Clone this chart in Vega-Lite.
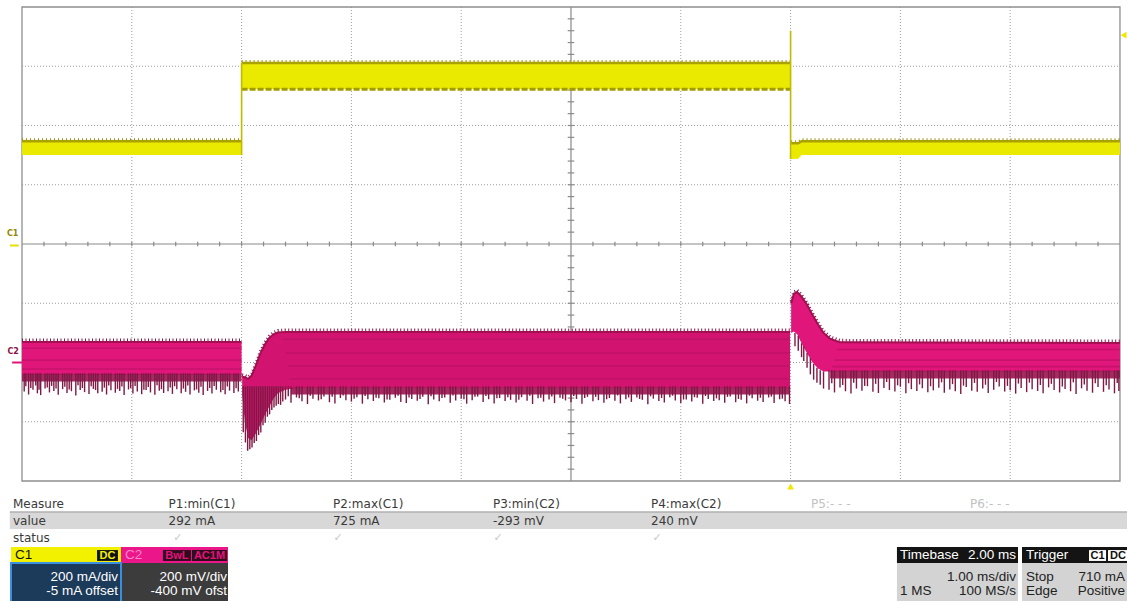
{
"$schema": "https://vega.github.io/schema/vega-lite/v6.json",
"width": 1127, "height": 601, "padding": 0, "autosize": {"type": "none"},
"background": "#ffffff",
"config": {"view": {"stroke": null}, "axis": {"disable": true}},
"datasets": {
 "vgrid": [{"t":-6},{"t":-5},{"t":-4},{"t":-3},{"t":-1},{"t":0},{"t":1},{"t":2}],
 "hgrid": [{"d":3},{"d":2},{"d":1},{"d":-1},{"d":-2},{"d":-3}],
 "xticks": [{"t":-6.8},{"t":-6.6},{"t":-6.4},{"t":-6.2},{"t":-6.0},{"t":-5.8},{"t":-5.6},{"t":-5.4},{"t":-5.2},{"t":-5.0},{"t":-4.8},{"t":-4.6},{"t":-4.4},{"t":-4.2},{"t":-4.0},{"t":-3.8},{"t":-3.6},{"t":-3.4},{"t":-3.2},{"t":-3.0},{"t":-2.8},{"t":-2.6},{"t":-2.4},{"t":-2.2},{"t":-1.8},{"t":-1.6},{"t":-1.4},{"t":-1.2},{"t":-1.0},{"t":-0.8},{"t":-0.6},{"t":-0.4},{"t":-0.2},{"t":0.0},{"t":0.2},{"t":0.4},{"t":0.6},{"t":0.8},{"t":1.0},{"t":1.2},{"t":1.4},{"t":1.6},{"t":1.8},{"t":2.0},{"t":2.2},{"t":2.4},{"t":2.6},{"t":2.8}],
 "yticks": [{"d":3.8},{"d":3.6},{"d":3.4},{"d":3.2},{"d":3.0},{"d":2.8},{"d":2.6},{"d":2.4},{"d":2.2},{"d":2.0},{"d":1.8},{"d":1.6},{"d":1.4},{"d":1.2},{"d":1.0},{"d":0.8},{"d":0.6},{"d":0.4},{"d":0.2},{"d":-0.2},{"d":-0.4},{"d":-0.6},{"d":-0.8},{"d":-1.0},{"d":-1.2},{"d":-1.4},{"d":-1.6},{"d":-1.8},{"d":-2.0},{"d":-2.2},{"d":-2.4},{"d":-2.6},{"d":-2.8},{"d":-3.0},{"d":-3.2},{"d":-3.4},{"d":-3.6},{"d":-3.8}],
 "trigT": [{"t":0,"d":-4.093}],
 "c1env": [
  {"seg":"L","t":-7,"hi":352,"lo":305},{"seg":"L","t":-5,"hi":352,"lo":305},
  {"seg":"H","t":-5,"hi":616,"lo":527},{"seg":"H","t":0,"hi":616,"lo":527},
  {"seg":"R","t":0.005,"hi":345,"lo":292},{"seg":"R","t":0.07,"hi":345,"lo":293},{"seg":"R","t":0.1,"hi":352,"lo":305},{"seg":"R","t":3,"hi":352,"lo":305}
 ],
 "c1edges": [{"t":-5,"v0":305,"v1":616},{"t":0,"v0":292,"v1":725}],
 "c1trig": [{"t":3.033,"mA":710}],
 "c1gnd": [{"t0":-7.11,"t1":-7.03,"mA":0,"lt":-7.085,"lmA":38}],
 "c2env": [
  {"seg":"L","t":-7,"hi":69,"lo":-42},{"seg":"L","t":-5,"hi":69,"lo":-42},
  {"seg":"M","t":-4.995,"hi":-48,"lo":-110},{"seg":"M","t":-4.97,"hi":-50,"lo":-200},{"seg":"M","t":-4.94,"hi":-55,"lo":-255},{"seg":"M","t":-4.91,"hi":-45,"lo":-262},{"seg":"M","t":-4.87,"hi":-10,"lo":-240},{"seg":"M","t":-4.83,"hi":30,"lo":-210},{"seg":"M","t":-4.79,"hi":60,"lo":-178},{"seg":"M","t":-4.75,"hi":82,"lo":-150},{"seg":"M","t":-4.71,"hi":95,"lo":-122},{"seg":"M","t":-4.67,"hi":101,"lo":-104},{"seg":"M","t":-4.6,"hi":103,"lo":-92},{"seg":"M","t":-4.5,"hi":103,"lo":-86},{"seg":"M","t":-0.005,"hi":103,"lo":-86},
  {"seg":"R","t":0.005,"hi":200,"lo":100},{"seg":"R","t":0.03,"hi":232,"lo":105},{"seg":"R","t":0.06,"hi":238,"lo":95},{"seg":"R","t":0.1,"hi":222,"lo":65},{"seg":"R","t":0.15,"hi":195,"lo":30},{"seg":"R","t":0.2,"hi":160,"lo":0},{"seg":"R","t":0.25,"hi":128,"lo":-20},{"seg":"R","t":0.3,"hi":100,"lo":-30},{"seg":"R","t":0.36,"hi":80,"lo":-30},{"seg":"R","t":0.45,"hi":68,"lo":-30},{"seg":"R","t":3,"hi":66,"lo":-30}
 ],
 "c2dark": [
  {"seg":"L","t":-7,"hi":-40,"lo":-64},{"seg":"L","t":-5,"hi":-40,"lo":-64},
  {"seg":"M","t":-4.55,"hi":-84,"lo":-108},{"seg":"M","t":-0.005,"hi":-84,"lo":-108},
  {"seg":"R","t":0.36,"hi":-28,"lo":-54},{"seg":"R","t":3,"hi":-28,"lo":-54}
 ],
 "c2stripe": [
  {"s":"L1","t":-7,"v":48},{"s":"L1","t":-5,"v":48},{"s":"L2","t":-7,"v":8},{"s":"L2","t":-5,"v":8},{"s":"L3","t":-7,"v":-22},{"s":"L3","t":-5,"v":-22},
  {"s":"M1","t":-4.62,"v":78},{"s":"M1","t":-0.005,"v":78},{"s":"M2","t":-4.6,"v":32},{"s":"M2","t":-0.005,"v":32},{"s":"M3","t":-4.58,"v":-12},{"s":"M3","t":-0.005,"v":-12},{"s":"M4","t":-4.56,"v":-55},{"s":"M4","t":-0.005,"v":-55},
  {"s":"R1","t":0.42,"v":44},{"s":"R1","t":3,"v":44},{"s":"R2","t":0.4,"v":8},{"s":"R2","t":3,"v":8},{"s":"R3","t":0.38,"v":-14},{"s":"R3","t":3,"v":-14}
 ],
 "spL": [{"t":-6.98,"v":-98},{"t":-6.94,"v":-108},{"t":-6.90,"v":-92},{"t":-6.86,"v":-104},{"t":-6.83,"v":-110},{"t":-6.79,"v":-88},{"t":-6.75,"v":-101},{"t":-6.71,"v":-96},{"t":-6.67,"v":-109},{"t":-6.63,"v":-90},{"t":-6.59,"v":-103},{"t":-6.55,"v":-97},{"t":-6.51,"v":-111},{"t":-6.47,"v":-93},{"t":-6.43,"v":-100},{"t":-6.39,"v":-106},{"t":-6.35,"v":-89},{"t":-6.31,"v":-104},{"t":-6.27,"v":-99},{"t":-6.23,"v":-108},{"t":-6.19,"v":-94},{"t":-6.15,"v":-102},{"t":-6.11,"v":-96},{"t":-6.07,"v":-110},{"t":-6.03,"v":-91},{"t":-5.99,"v":-105},{"t":-5.95,"v":-98},{"t":-5.91,"v":-107},{"t":-5.87,"v":-93},{"t":-5.83,"v":-101},{"t":-5.79,"v":-109},{"t":-5.75,"v":-95},{"t":-5.71,"v":-103},{"t":-5.67,"v":-97},{"t":-5.63,"v":-106},{"t":-5.59,"v":-90},{"t":-5.55,"v":-104},{"t":-5.51,"v":-99},{"t":-5.47,"v":-108},{"t":-5.43,"v":-94},{"t":-5.39,"v":-102},{"t":-5.35,"v":-110},{"t":-5.31,"v":-96},{"t":-5.27,"v":-105},{"t":-5.23,"v":-92},{"t":-5.19,"v":-100},{"t":-5.15,"v":-107},{"t":-5.11,"v":-95},{"t":-5.07,"v":-103},{"t":-5.03,"v":-98},
  {"t":-6.965,"v":-80},{"t":-6.92,"v":-86},{"t":-6.875,"v":-78},{"t":-6.845,"v":-92},{"t":-6.77,"v":-84},{"t":-6.73,"v":-79},{"t":-6.69,"v":-88},{"t":-6.61,"v":-82},{"t":-6.57,"v":-91},{"t":-6.49,"v":-77},{"t":-6.45,"v":-86},{"t":-6.37,"v":-80},{"t":-6.33,"v":-93},{"t":-6.25,"v":-85},{"t":-6.21,"v":-78},{"t":-6.13,"v":-89},{"t":-6.09,"v":-81},{"t":-6.01,"v":-87},{"t":-5.97,"v":-79},{"t":-5.89,"v":-92},{"t":-5.85,"v":-83},{"t":-5.77,"v":-77},{"t":-5.73,"v":-90},{"t":-5.65,"v":-84},{"t":-5.61,"v":-80},{"t":-5.53,"v":-88},{"t":-5.49,"v":-78},{"t":-5.41,"v":-91},{"t":-5.37,"v":-82},{"t":-5.29,"v":-86},{"t":-5.25,"v":-79},{"t":-5.17,"v":-93},{"t":-5.13,"v":-81},{"t":-5.05,"v":-87}],
 "spM": [{"t":-4.985,"v":-235},{"t":-4.965,"v":-270},{"t":-4.945,"v":-298},{"t":-4.925,"v":-293},{"t":-4.905,"v":-287},{"t":-4.885,"v":-272},{"t":-4.865,"v":-265},{"t":-4.845,"v":-245},{"t":-4.825,"v":-236},{"t":-4.805,"v":-212},{"t":-4.785,"v":-203},{"t":-4.765,"v":-183},{"t":-4.745,"v":-175},{"t":-4.725,"v":-160},{"t":-4.705,"v":-152},{"t":-4.685,"v":-146},{"t":-4.665,"v":-140},{"t":-4.645,"v":-143},{"t":-4.625,"v":-132},
  {"t":-4.60,"v":-125},{"t":-4.55,"v":-136},{"t":-4.50,"v":-118},{"t":-4.45,"v":-131},{"t":-4.40,"v":-140},{"t":-4.35,"v":-122},{"t":-4.30,"v":-128},{"t":-4.25,"v":-115},{"t":-4.20,"v":-134},{"t":-4.15,"v":-138},{"t":-4.10,"v":-120},{"t":-4.05,"v":-127},{"t":-4.00,"v":-132},{"t":-3.95,"v":-117},{"t":-3.90,"v":-139},{"t":-3.85,"v":-124},{"t":-3.80,"v":-130},{"t":-3.75,"v":-121},{"t":-3.70,"v":-135},{"t":-3.65,"v":-126},{"t":-3.60,"v":-119},{"t":-3.55,"v":-133},{"t":-3.50,"v":-137},{"t":-3.45,"v":-123},{"t":-3.40,"v":-129},{"t":-3.35,"v":-116},{"t":-3.30,"v":-141},{"t":-3.25,"v":-125},{"t":-3.20,"v":-131},{"t":-3.15,"v":-118},{"t":-3.10,"v":-136},{"t":-3.05,"v":-128},{"t":-3.00,"v":-122},{"t":-2.95,"v":-139},{"t":-2.90,"v":-127},{"t":-2.85,"v":-115},{"t":-2.80,"v":-133},{"t":-2.75,"v":-124},{"t":-2.70,"v":-138},{"t":-2.65,"v":-120},{"t":-2.60,"v":-130},{"t":-2.55,"v":-126},{"t":-2.50,"v":-135},{"t":-2.45,"v":-117},{"t":-2.40,"v":-129},{"t":-2.35,"v":-140},{"t":-2.30,"v":-121},{"t":-2.25,"v":-132},{"t":-2.20,"v":-125},{"t":-2.15,"v":-137},{"t":-2.10,"v":-119},{"t":-2.05,"v":-128},{"t":-2.00,"v":-134},{"t":-1.95,"v":-123},{"t":-1.90,"v":-139},{"t":-1.85,"v":-116},{"t":-1.80,"v":-131},{"t":-1.75,"v":-127},{"t":-1.70,"v":-136},{"t":-1.65,"v":-120},{"t":-1.60,"v":-129},{"t":-1.55,"v":-138},{"t":-1.50,"v":-124},{"t":-1.45,"v":-133},{"t":-1.40,"v":-118},{"t":-1.35,"v":-126},{"t":-1.30,"v":-141},{"t":-1.25,"v":-122},{"t":-1.20,"v":-130},{"t":-1.15,"v":-135},{"t":-1.10,"v":-117},{"t":-1.05,"v":-128},{"t":-1.00,"v":-137},{"t":-0.95,"v":-125},{"t":-0.90,"v":-132},{"t":-0.85,"v":-119},{"t":-0.80,"v":-139},{"t":-0.75,"v":-123},{"t":-0.70,"v":-130},{"t":-0.65,"v":-127},{"t":-0.60,"v":-136},{"t":-0.55,"v":-115},{"t":-0.50,"v":-134},{"t":-0.45,"v":-126},{"t":-0.40,"v":-138},{"t":-0.35,"v":-121},{"t":-0.30,"v":-129},{"t":-0.25,"v":-133},{"t":-0.20,"v":-118},{"t":-0.15,"v":-137},{"t":-0.10,"v":-124},{"t":-0.05,"v":-131},{"t":-0.01,"v":-140},
  {"t":-4.575,"v":-114},{"t":-4.475,"v":-121},{"t":-4.375,"v":-112},{"t":-4.275,"v":-124},{"t":-4.175,"v":-116},{"t":-4.075,"v":-111},{"t":-3.975,"v":-122},{"t":-3.875,"v":-113},{"t":-3.775,"v":-119},{"t":-3.675,"v":-125},{"t":-3.575,"v":-112},{"t":-3.475,"v":-118},{"t":-3.375,"v":-123},{"t":-3.275,"v":-114},{"t":-3.175,"v":-120},{"t":-3.075,"v":-111},{"t":-2.975,"v":-124},{"t":-2.875,"v":-116},{"t":-2.775,"v":-113},{"t":-2.675,"v":-121},{"t":-2.575,"v":-117},{"t":-2.475,"v":-126},{"t":-2.375,"v":-112},{"t":-2.275,"v":-119},{"t":-2.175,"v":-115},{"t":-2.075,"v":-122},{"t":-1.975,"v":-113},{"t":-1.875,"v":-120},{"t":-1.775,"v":-116},{"t":-1.675,"v":-124},{"t":-1.575,"v":-111},{"t":-1.475,"v":-118},{"t":-1.375,"v":-123},{"t":-1.275,"v":-114},{"t":-1.175,"v":-120},{"t":-1.075,"v":-112},{"t":-0.975,"v":-125},{"t":-0.875,"v":-117},{"t":-0.775,"v":-113},{"t":-0.675,"v":-121},{"t":-0.575,"v":-116},{"t":-0.475,"v":-123},{"t":-0.375,"v":-112},{"t":-0.275,"v":-119},{"t":-0.175,"v":-115},{"t":-0.075,"v":-122}],
 "spR": [{"t":0.35,"v":-92},{"t":0.40,"v":-101},{"t":0.45,"v":-84},{"t":0.50,"v":-97},{"t":0.55,"v":-105},{"t":0.60,"v":-88},{"t":0.65,"v":-95},{"t":0.70,"v":-80},{"t":0.75,"v":-99},{"t":0.80,"v":-103},{"t":0.85,"v":-86},{"t":0.90,"v":-93},{"t":0.95,"v":-98},{"t":1.00,"v":-82},{"t":1.05,"v":-104},{"t":1.10,"v":-90},{"t":1.15,"v":-96},{"t":1.20,"v":-87},{"t":1.25,"v":-100},{"t":1.30,"v":-94},{"t":1.35,"v":-85},{"t":1.40,"v":-102},{"t":1.45,"v":-91},{"t":1.50,"v":-97},{"t":1.55,"v":-106},{"t":1.60,"v":-83},{"t":1.65,"v":-95},{"t":1.70,"v":-99},{"t":1.75,"v":-88},{"t":1.80,"v":-103},{"t":1.85,"v":-92},{"t":1.90,"v":-81},{"t":1.95,"v":-98},{"t":2.00,"v":-94},{"t":2.05,"v":-105},{"t":2.10,"v":-86},{"t":2.15,"v":-100},{"t":2.20,"v":-90},{"t":2.25,"v":-96},{"t":2.30,"v":-104},{"t":2.35,"v":-84},{"t":2.40,"v":-93},{"t":2.45,"v":-101},{"t":2.50,"v":-89},{"t":2.55,"v":-97},{"t":2.60,"v":-106},{"t":2.65,"v":-87},{"t":2.70,"v":-95},{"t":2.75,"v":-102},{"t":2.80,"v":-83},{"t":2.85,"v":-99},{"t":2.90,"v":-91},{"t":2.95,"v":-104},{"t":2.99,"v":-96},
  {"t":0.375,"v":-70},{"t":0.475,"v":-76},{"t":0.575,"v":-68},{"t":0.675,"v":-79},{"t":0.775,"v":-72},{"t":0.875,"v":-66},{"t":0.975,"v":-77},{"t":1.075,"v":-70},{"t":1.175,"v":-74},{"t":1.275,"v":-80},{"t":1.375,"v":-67},{"t":1.475,"v":-73},{"t":1.575,"v":-78},{"t":1.675,"v":-69},{"t":1.775,"v":-75},{"t":1.875,"v":-66},{"t":1.975,"v":-79},{"t":2.075,"v":-71},{"t":2.175,"v":-68},{"t":2.275,"v":-76},{"t":2.375,"v":-72},{"t":2.475,"v":-81},{"t":2.575,"v":-67},{"t":2.675,"v":-74},{"t":2.775,"v":-70},{"t":2.875,"v":-77},{"t":2.975,"v":-69}],
 "spT": [{"t":0.04,"v0":100,"v1":55},{"t":0.07,"v0":90,"v1":40},{"t":0.10,"v0":65,"v1":18},{"t":0.12,"v0":55,"v1":5},{"t":0.15,"v0":32,"v1":-18},{"t":0.18,"v0":15,"v1":-40},{"t":0.21,"v0":-5,"v1":-58},{"t":0.24,"v0":-18,"v1":-68},{"t":0.27,"v0":-26,"v1":-75},{"t":0.30,"v0":-30,"v1":-88}],
 "c2gnd": [{"t0":-7.09,"t1":-7.0,"mV":0,"lt":-7.08,"lmV":34}],
 "panel": [
  {"part":"bar","c0":-0.02,"c1":6.99,"r0":0.47,"r1":1.47},
  {"part":"c1head","c0":-0.0125,"c1":0.677,"r0":2.53,"r1":3.47},
  {"part":"c1body","c0":-0.0125,"c1":0.677,"r0":3.47,"r1":5.8},
  {"part":"c2head","c0":0.677,"c1":1.348,"r0":2.53,"r1":3.47},
  {"part":"c2body","c0":0.677,"c1":1.348,"r0":3.47,"r1":5.8},
  {"part":"c1tag","c0":0.527,"c1":0.658,"r0":2.71,"r1":3.35},
  {"part":"c2tag","c0":0.94,"c1":1.116,"r0":2.71,"r1":3.35},
  {"part":"c2tag","c0":1.122,"c1":1.342,"r0":2.71,"r1":3.35},
  {"part":"tbhead","c0":5.542,"c1":6.301,"r0":2.53,"r1":3.47},
  {"part":"tbbody","c0":5.542,"c1":6.301,"r0":3.47,"r1":5.8},
  {"part":"trhead","c0":6.326,"c1":6.99,"r0":2.53,"r1":3.47},
  {"part":"trbody","c0":6.326,"c1":6.99,"r0":3.47,"r1":5.8},
  {"part":"trtag","c0":6.746,"c1":6.853,"r0":2.71,"r1":3.35},
  {"part":"trtag","c0":6.865,"c1":6.99,"r0":2.71,"r1":3.35}
 ],
 "tabTxt": [{"text":"Measure","c":0,"r":0},{"text":"value","c":0,"r":1},{"text":"status","c":0,"r":2},{"text":"P1:min(C1)","c":0.975,"r":0},{"text":"P2:max(C1)","c":2.006,"r":0},{"text":"P3:min(C2)","c":3.009,"r":0},{"text":"P4:max(C2)","c":4.0,"r":0},{"text":"292 mA","c":0.975,"r":1},{"text":"725 mA","c":2.006,"r":1},{"text":"-293 mV","c":3.009,"r":1},{"text":"240 mV","c":4.0,"r":1}],
 "tabGray": [{"text":"P5:- - -","c":5.003,"r":0},{"text":"P6:- - -","c":6.0,"r":0}],
 "checks": [{"text":"✓","c":1.034,"r":2},{"text":"✓","c":2.038,"r":2},{"text":"✓","c":3.041,"r":2},{"text":"✓","c":4.038,"r":2}],
 "boxR": [{"text":"200 mA/div","c":0.658,"r":4.29,"tone":"light"},{"text":"-5 mA offset","c":0.658,"r":5.12,"tone":"light"},{"text":"200 mV/div","c":1.342,"r":4.29,"tone":"light"},{"text":"-400 mV ofst","c":1.342,"r":5.12,"tone":"light"},{"text":"2.00 ms","c":6.288,"r":3.0,"tone":"light"},{"text":"1.00 ms/div","c":6.288,"r":4.29,"tone":"dark"},{"text":"100 MS/s","c":6.288,"r":5.12,"tone":"dark"},{"text":"710 mA","c":6.972,"r":4.29,"tone":"dark"},{"text":"Positive","c":6.972,"r":5.12,"tone":"dark"}],
 "boxL": [{"text":"C1","c":0.0125,"r":3.0,"tone":"black"},{"text":"C2","c":0.702,"r":3.0,"tone":"pink"},{"text":"Timebase","c":5.561,"r":3.0,"tone":"white"},{"text":"Trigger","c":6.351,"r":3.0,"tone":"white"},{"text":"1 MS","c":5.561,"r":5.12,"tone":"dark"},{"text":"Stop","c":6.351,"r":4.29,"tone":"dark"},{"text":"Edge","c":6.351,"r":5.12,"tone":"dark"}],
 "tags": [{"text":"DC","c":0.592,"r":3.03,"tone":"yellow"},{"text":"BwL","c":1.028,"r":3.03,"tone":"magenta"},{"text":"AC1M","c":1.232,"r":3.03,"tone":"magenta"},{"text":"C1","c":6.80,"r":3.03,"tone":"black"},{"text":"DC","c":6.928,"r":3.03,"tone":"black"}]
},
"layer": [
 {"layer": [
  {"layer": [
   {"data":{"name":"vgrid"},"mark":{"type":"rule","color":"#9c9c9c","strokeDash":[1,2],"strokeWidth":1},
    "encoding":{"x":{"field":"t","type":"quantitative","scale":{"domain":[-7.2004,3.064],"nice":false,"zero":false},"axis":null},
                "y":{"datum":4,"scale":{"domain":[-6.025,4.118],"nice":false,"zero":false},"axis":null},"y2":{"datum":-4}}},
   {"data":{"name":"hgrid"},"mark":{"type":"rule","color":"#9c9c9c","strokeDash":[1,2],"strokeWidth":1},
    "encoding":{"y":{"field":"d","type":"quantitative","scale":{"domain":[-6.025,4.118],"nice":false,"zero":false},"axis":null},
                "x":{"datum":-7,"scale":{"domain":[-7.2004,3.064],"nice":false,"zero":false},"axis":null},"x2":{"datum":3}}},
   {"data":{"name":"trigT"},"mark":{"type":"rule","color":"#8a8a8a","strokeWidth":1.2},
    "encoding":{"x":{"datum":-2,"scale":{"domain":[-7.2004,3.064],"nice":false,"zero":false},"axis":null},
                "y":{"datum":4,"scale":{"domain":[-6.025,4.118],"nice":false,"zero":false},"axis":null},"y2":{"datum":-4}}},
   {"data":{"name":"trigT"},"mark":{"type":"rule","color":"#8a8a8a","strokeWidth":1.2},
    "encoding":{"x":{"datum":-7,"scale":{"domain":[-7.2004,3.064],"nice":false,"zero":false},"axis":null},"x2":{"datum":3},
                "y":{"datum":0,"scale":{"domain":[-6.025,4.118],"nice":false,"zero":false},"axis":null}}},
   {"data":{"name":"xticks"},"mark":{"type":"rule","color":"#8a8a8a","strokeWidth":1.2},
    "encoding":{"x":{"field":"t","type":"quantitative","scale":{"domain":[-7.2004,3.064],"nice":false,"zero":false},"axis":null},
                "y":{"datum":-0.04,"scale":{"domain":[-6.025,4.118],"nice":false,"zero":false},"axis":null},"y2":{"datum":0.04}}},
   {"data":{"name":"yticks"},"mark":{"type":"rule","color":"#8a8a8a","strokeWidth":1.2},
    "encoding":{"y":{"field":"d","type":"quantitative","scale":{"domain":[-6.025,4.118],"nice":false,"zero":false},"axis":null},
                "x":{"datum":-2.03,"scale":{"domain":[-7.2004,3.064],"nice":false,"zero":false},"axis":null},"x2":{"datum":-1.97}}},
   {"data":{"name":"trigT"},"mark":{"type":"rect","fillOpacity":0,"stroke":"#8f8f8f","strokeWidth":1.3},
    "encoding":{"x":{"datum":-7,"scale":{"domain":[-7.2004,3.064],"nice":false,"zero":false},"axis":null},"x2":{"datum":3},
                "y":{"datum":-4,"scale":{"domain":[-6.025,4.118],"nice":false,"zero":false},"axis":null},"y2":{"datum":4}}},
   {"data":{"name":"trigT"},"mark":{"type":"point","shape":"triangle-up","filled":true,"color":"#f2e600","size":45,"opacity":1},
    "encoding":{"x":{"field":"t","type":"quantitative","scale":{"domain":[-7.2004,3.064],"nice":false,"zero":false},"axis":null},
                "y":{"field":"d","type":"quantitative","scale":{"domain":[-6.025,4.118],"nice":false,"zero":false},"axis":null}}}
  ]},
  {"layer": [
   {"data":{"name":"c1env"},"mark":{"type":"area","color":"#eaea00","opacity":1},
    "encoding":{"x":{"field":"t","type":"quantitative","scale":{"domain":[-7.2004,3.064],"nice":false,"zero":false},"axis":null},
                "y":{"field":"hi","type":"quantitative","scale":{"domain":[-1200,828.6],"nice":false,"zero":false},"axis":null},
                "y2":{"field":"lo"},"detail":{"field":"seg"}}},
   {"data":{"name":"c1env"},"mark":{"type":"line","color":"#aaa200","strokeWidth":2.5},
    "encoding":{"x":{"field":"t","type":"quantitative","scale":{"domain":[-7.2004,3.064],"nice":false,"zero":false},"axis":null},
                "y":{"field":"hi","type":"quantitative","scale":{"domain":[-1200,828.6],"nice":false,"zero":false},"axis":null},
                "detail":{"field":"seg"}}},
   {"data":{"name":"c1env"},"mark":{"type":"line","color":"#9c9400","strokeWidth":2,"strokeDash":[1,3],"yOffset":-2},
    "encoding":{"x":{"field":"t","type":"quantitative","scale":{"domain":[-7.2004,3.064],"nice":false,"zero":false},"axis":null},
                "y":{"field":"hi","type":"quantitative","scale":{"domain":[-1200,828.6],"nice":false,"zero":false},"axis":null},
                "detail":{"field":"seg"}}},
   {"data":{"name":"c1env"},"transform":[{"filter":"datum.seg == 'H'"}],"mark":{"type":"line","color":"#a39c00","strokeWidth":3,"strokeDash":[6,2]},
    "encoding":{"x":{"field":"t","type":"quantitative","scale":{"domain":[-7.2004,3.064],"nice":false,"zero":false},"axis":null},
                "y":{"field":"lo","type":"quantitative","scale":{"domain":[-1200,828.6],"nice":false,"zero":false},"axis":null}}},
   {"data":{"name":"c1edges"},"mark":{"type":"rule","color":"#c2ba00","strokeWidth":1.6},
    "encoding":{"x":{"field":"t","type":"quantitative","scale":{"domain":[-7.2004,3.064],"nice":false,"zero":false},"axis":null},
                "y":{"field":"v0","type":"quantitative","scale":{"domain":[-1200,828.6],"nice":false,"zero":false},"axis":null},"y2":{"field":"v1"}}},
   {"data":{"name":"c1trig"},"mark":{"type":"point","shape":"triangle-left","filled":true,"color":"#f2e600","size":45,"opacity":1},
    "encoding":{"x":{"field":"t","type":"quantitative","scale":{"domain":[-7.2004,3.064],"nice":false,"zero":false},"axis":null},
                "y":{"field":"mA","type":"quantitative","scale":{"domain":[-1200,828.6],"nice":false,"zero":false},"axis":null}}},
   {"data":{"name":"c1gnd"},"mark":{"type":"rule","color":"#e6e000","strokeWidth":2},
    "encoding":{"x":{"field":"t0","type":"quantitative","scale":{"domain":[-7.2004,3.064],"nice":false,"zero":false},"axis":null},"x2":{"field":"t1"},
                "y":{"field":"mA","type":"quantitative","scale":{"domain":[-1200,828.6],"nice":false,"zero":false},"axis":null}}},
   {"data":{"name":"c1gnd"},"mark":{"type":"text","text":"C1","color":"#8f8700","fontSize":8,"fontWeight":"bold","font":"DejaVu Sans","align":"center","baseline":"middle"},
    "encoding":{"x":{"field":"lt","type":"quantitative","scale":{"domain":[-7.2004,3.064],"nice":false,"zero":false},"axis":null},
                "y":{"field":"lmA","type":"quantitative","scale":{"domain":[-1200,828.6],"nice":false,"zero":false},"axis":null}}}
  ]},
  {"layer": [
   {"data":{"name":"c2env"},"mark":{"type":"area","opacity":1},
    "encoding":{"x":{"field":"t","type":"quantitative","scale":{"domain":[-7.2004,3.064],"nice":false,"zero":false},"axis":null},
                "y":{"field":"hi","type":"quantitative","scale":{"domain":[-805,1223.6],"nice":false,"zero":false},"axis":null},
                "y2":{"field":"lo"},"detail":{"field":"seg"},
                "color":{"field":"seg","type":"nominal","legend":null,"scale":{"domain":["L","M","R"],"range":["#e0167b","#d21470","#e0167b"]}}}},
   {"data":{"name":"c2stripe"},"mark":{"type":"line","color":"#b50f5e","strokeWidth":1.6,"opacity":0.55},
    "encoding":{"x":{"field":"t","type":"quantitative","scale":{"domain":[-7.2004,3.064],"nice":false,"zero":false},"axis":null},
                "y":{"field":"v","type":"quantitative","scale":{"domain":[-805,1223.6],"nice":false,"zero":false},"axis":null},
                "detail":{"field":"s"}}},
   {"data":{"name":"c2dark"},"mark":{"type":"area","color":"#9a1350","opacity":0.9},
    "encoding":{"x":{"field":"t","type":"quantitative","scale":{"domain":[-7.2004,3.064],"nice":false,"zero":false},"axis":null},
                "y":{"field":"hi","type":"quantitative","scale":{"domain":[-805,1223.6],"nice":false,"zero":false},"axis":null},
                "y2":{"field":"lo"},"detail":{"field":"seg"}}},
   {"data":{"name":"c2env"},"mark":{"type":"line","color":"#a50f52","strokeWidth":2},
    "encoding":{"x":{"field":"t","type":"quantitative","scale":{"domain":[-7.2004,3.064],"nice":false,"zero":false},"axis":null},
                "y":{"field":"hi","type":"quantitative","scale":{"domain":[-805,1223.6],"nice":false,"zero":false},"axis":null},
                "detail":{"field":"seg"}}},
   {"data":{"name":"c2env"},"mark":{"type":"line","color":"#8e1449","strokeWidth":3,"strokeDash":[1,2.5],"yOffset":-2},
    "encoding":{"x":{"field":"t","type":"quantitative","scale":{"domain":[-7.2004,3.064],"nice":false,"zero":false},"axis":null},
                "y":{"field":"hi","type":"quantitative","scale":{"domain":[-805,1223.6],"nice":false,"zero":false},"axis":null},
                "detail":{"field":"seg"}}},
   {"data":{"name":"spL"},"mark":{"type":"rule","color":"#7e1844","strokeWidth":1.4},
    "encoding":{"x":{"field":"t","type":"quantitative","scale":{"domain":[-7.2004,3.064],"nice":false,"zero":false},"axis":null},
                "y":{"field":"v","type":"quantitative","scale":{"domain":[-805,1223.6],"nice":false,"zero":false},"axis":null},"y2":{"datum":-36}}},
   {"data":{"name":"spM"},"mark":{"type":"rule","color":"#7e1844","strokeWidth":1.4},
    "encoding":{"x":{"field":"t","type":"quantitative","scale":{"domain":[-7.2004,3.064],"nice":false,"zero":false},"axis":null},
                "y":{"field":"v","type":"quantitative","scale":{"domain":[-805,1223.6],"nice":false,"zero":false},"axis":null},"y2":{"datum":-80}}},
   {"data":{"name":"spR"},"mark":{"type":"rule","color":"#7e1844","strokeWidth":1.4},
    "encoding":{"x":{"field":"t","type":"quantitative","scale":{"domain":[-7.2004,3.064],"nice":false,"zero":false},"axis":null},
                "y":{"field":"v","type":"quantitative","scale":{"domain":[-805,1223.6],"nice":false,"zero":false},"axis":null},"y2":{"datum":-26}}},
   {"data":{"name":"spT"},"mark":{"type":"rule","color":"#7e1844","strokeWidth":1.4},
    "encoding":{"x":{"field":"t","type":"quantitative","scale":{"domain":[-7.2004,3.064],"nice":false,"zero":false},"axis":null},
                "y":{"field":"v0","type":"quantitative","scale":{"domain":[-805,1223.6],"nice":false,"zero":false},"axis":null},"y2":{"field":"v1"}}},
   {"data":{"name":"c2gnd"},"mark":{"type":"rule","color":"#e0157a","strokeWidth":2},
    "encoding":{"x":{"field":"t0","type":"quantitative","scale":{"domain":[-7.2004,3.064],"nice":false,"zero":false},"axis":null},"x2":{"field":"t1"},
                "y":{"field":"mV","type":"quantitative","scale":{"domain":[-805,1223.6],"nice":false,"zero":false},"axis":null}}},
   {"data":{"name":"c2gnd"},"mark":{"type":"text","text":"C2","color":"#8a1046","fontSize":8,"fontWeight":"bold","font":"DejaVu Sans","align":"center","baseline":"middle"},
    "encoding":{"x":{"field":"lt","type":"quantitative","scale":{"domain":[-7.2004,3.064],"nice":false,"zero":false},"axis":null},
                "y":{"field":"lmV","type":"quantitative","scale":{"domain":[-805,1223.6],"nice":false,"zero":false},"axis":null}}}
  ]}
 ], "resolve": {"scale": {"y": "independent"}}},
 {"layer": [
  {"data":{"name":"panel"},"mark":{"type":"rect"},
   "encoding":{"x":{"field":"c0","type":"quantitative","scale":{"domain":[-0.0815,6.9843],"nice":false,"zero":false},"axis":null},"x2":{"field":"c1"},
               "y":{"field":"r0","type":"quantitative","scale":{"domain":[-29.647,5.706],"nice":false,"zero":false,"reverse":true},"axis":null},"y2":{"field":"r1"},
               "fill":{"field":"part","type":"nominal","legend":null,"scale":{"domain":["bar","c1head","c1body","c2head","c2body","c1tag","c2tag","tbhead","tbbody","trhead","trbody","trtag"],"range":["#d8d8d8","#f2f200","#1c3a5a","#ec168b","#3c3c3c","#111111","#2e0c1c","#141414","#d3d3d3","#141414","#d3d3d3","#ffffff"]}}}},
  {"data":{"name":"panel"},"transform":[{"filter":"datum.part == 'c1body'"}],"mark":{"type":"rect","fillOpacity":0,"stroke":"#3b8fe0","strokeWidth":2},
   "encoding":{"x":{"field":"c0","type":"quantitative","scale":{"domain":[-0.0815,6.9843],"nice":false,"zero":false},"axis":null},"x2":{"field":"c1"},
               "y":{"field":"r0","type":"quantitative","scale":{"domain":[-29.647,5.706],"nice":false,"zero":false,"reverse":true},"axis":null},"y2":{"field":"r1"}}},
  {"data":{"name":"panel"},"transform":[{"filter":"datum.part == 'bar'"}],"mark":{"type":"rule","color":"#b0b0b0","strokeWidth":1.5},
   "encoding":{"x":{"field":"c0","type":"quantitative","scale":{"domain":[-0.0815,6.9843],"nice":false,"zero":false},"axis":null},"x2":{"field":"c1"},
               "y":{"field":"r0","type":"quantitative","scale":{"domain":[-29.647,5.706],"nice":false,"zero":false,"reverse":true},"axis":null}}},
  {"data":{"name":"tabTxt"},"mark":{"type":"text","color":"#3a3a3a","font":"DejaVu Sans","fontSize":12,"align":"left","baseline":"middle"},
   "encoding":{"x":{"field":"c","type":"quantitative","scale":{"domain":[-0.0815,6.9843],"nice":false,"zero":false},"axis":null},
               "y":{"field":"r","type":"quantitative","scale":{"domain":[-29.647,5.706],"nice":false,"zero":false,"reverse":true},"axis":null},"text":{"field":"text"}}},
  {"data":{"name":"tabGray"},"mark":{"type":"text","color":"#c2c2c2","font":"DejaVu Sans","fontSize":12,"align":"left","baseline":"middle"},
   "encoding":{"x":{"field":"c","type":"quantitative","scale":{"domain":[-0.0815,6.9843],"nice":false,"zero":false},"axis":null},
               "y":{"field":"r","type":"quantitative","scale":{"domain":[-29.647,5.706],"nice":false,"zero":false,"reverse":true},"axis":null},"text":{"field":"text"}}},
  {"data":{"name":"checks"},"mark":{"type":"text","color":"#c8c8c8","font":"DejaVu Sans","fontSize":11,"align":"center","baseline":"middle"},
   "encoding":{"x":{"field":"c","type":"quantitative","scale":{"domain":[-0.0815,6.9843],"nice":false,"zero":false},"axis":null},
               "y":{"field":"r","type":"quantitative","scale":{"domain":[-29.647,5.706],"nice":false,"zero":false,"reverse":true},"axis":null},"text":{"field":"text"}}},
  {"data":{"name":"boxR"},"mark":{"type":"text","font":"Liberation Sans","fontSize":13.5,"align":"right","baseline":"middle"},
   "encoding":{"x":{"field":"c","type":"quantitative","scale":{"domain":[-0.0815,6.9843],"nice":false,"zero":false},"axis":null},
               "y":{"field":"r","type":"quantitative","scale":{"domain":[-29.647,5.706],"nice":false,"zero":false,"reverse":true},"axis":null},"text":{"field":"text"},
               "color":{"field":"tone","type":"nominal","legend":null,"scale":{"domain":["light","dark"],"range":["#ffffff","#222222"]}}}},
  {"data":{"name":"boxL"},"mark":{"type":"text","font":"Liberation Sans","fontSize":13.5,"align":"left","baseline":"middle"},
   "encoding":{"x":{"field":"c","type":"quantitative","scale":{"domain":[-0.0815,6.9843],"nice":false,"zero":false},"axis":null},
               "y":{"field":"r","type":"quantitative","scale":{"domain":[-29.647,5.706],"nice":false,"zero":false,"reverse":true},"axis":null},"text":{"field":"text"},
               "color":{"field":"tone","type":"nominal","legend":null,"scale":{"domain":["black","pink","white","dark"],"range":["#111111","#ff86c6","#ffffff","#222222"]}}}},
  {"data":{"name":"tags"},"mark":{"type":"text","font":"Liberation Sans","fontSize":11,"fontWeight":"bold","align":"center","baseline":"middle"},
   "encoding":{"x":{"field":"c","type":"quantitative","scale":{"domain":[-0.0815,6.9843],"nice":false,"zero":false},"axis":null},
               "y":{"field":"r","type":"quantitative","scale":{"domain":[-29.647,5.706],"nice":false,"zero":false,"reverse":true},"axis":null},"text":{"field":"text"},
               "color":{"field":"tone","type":"nominal","legend":null,"scale":{"domain":["yellow","magenta","black"],"range":["#f2f200","#e3137d","#111111"]}}}}
 ], "resolve": {"scale": {"color": "independent"}}}
],
"resolve": {"scale": {"x": "independent", "y": "independent"}}
}
